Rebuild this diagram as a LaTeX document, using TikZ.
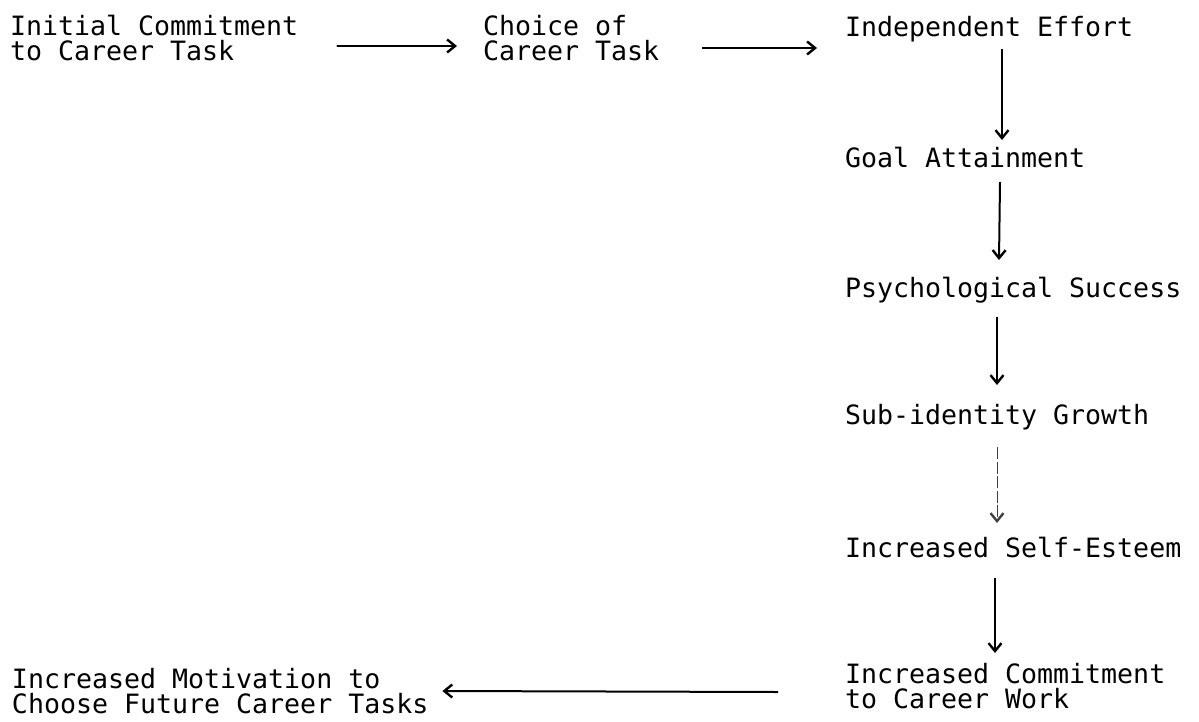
\documentclass[tikz,border=0pt]{standalone}
\usepackage{fontspec}
\setmainfont{DejaVu Sans Mono}
\usetikzlibrary{arrows.meta}
\newcommand{\twolines}[2]{\vtop{\baselineskip=25pt\hbox{#1}\hbox{#2}}}
\tikzset{
  lbl/.style={anchor=base west, inner sep=0pt, outer sep=0pt, font=\fontsize{26.6}{25}\selectfont},
  arr/.style={line width=2pt, -{Straight Barb[length=8pt,width=13pt,line width=2.4pt]}},
  faintarr/.style={arr, line width=1pt, draw=black!75, dash pattern=on 12pt off 2.5pt}
}
\begin{document}
\begin{tikzpicture}[x=1pt,y=-1pt]
\useasboundingbox (0,0) rectangle (1199,721);
\node[lbl] (init) at (10,35) {\twolines{Initial Commitment}{to Career Task}};
\node[lbl] (choice) at (483,35) {\twolines{Choice of}{Career Task}};
\node[lbl] (indep) at (845,36) {Independent Effort};
\node[lbl] (goal) at (845,167) {Goal Attainment};
\node[lbl] (psych) at (845,297) {Psychological Success};
\node[lbl] (sub) at (845,424) {Sub-identity Growth};
\node[lbl] (esteem) at (845,557) {Increased Self-Esteem};
\node[lbl] (commit) at (845,683) {\twolines{Increased Commitment}{to Career Work}};
\node[lbl] (motiv) at (12,688) {\twolines{Increased Motivation to}{Choose Future Career Tasks}};

\draw[arr, line cap=round] ([xshift=39pt,yshift=-11pt]init.base east) -- ([xshift=-26pt,yshift=-11pt]choice.base west);
\draw[arr] ([xshift=43pt,yshift=-13pt]choice.base east) -- ([xshift=-28pt,yshift=-12pt]indep.base west);
\draw[arr] ([xshift=157pt,yshift=-13pt]indep.base west) -- ([xshift=157pt,yshift=27pt]goal.base west);
\draw[arr] ([xshift=155pt,yshift=-15pt]goal.base west) -- ([xshift=154pt,yshift=37pt]psych.base west);
\draw[arr] ([xshift=152pt,yshift=-20pt]psych.base west) -- ([xshift=152pt,yshift=39pt]sub.base west);
\draw[faintarr] ([xshift=152pt,yshift=-23pt]sub.base west) -- ([xshift=152pt,yshift=34pt]esteem.base west);
\draw[arr] ([xshift=150pt,yshift=-21pt]esteem.base west) -- ([xshift=150pt,yshift=30pt]commit.base west);
\draw[arr] ([xshift=-67pt,yshift=-9pt]commit.base west) -- ([xshift=14pt,yshift=-3pt]motiv.base east);
\end{tikzpicture}
\end{document}
